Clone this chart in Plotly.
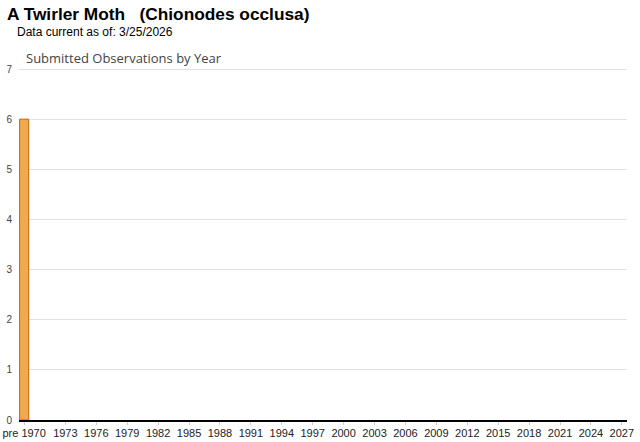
import plotly.graph_objects as go

# Data
categories = ["pre 1970"] + [str(y) for y in range(1970, 2028)]
counts = [6] + [0] * (len(categories) - 1)
tick_labels = ["pre 1970"] + [str(y) for y in range(1973, 2028, 3)]

W, H = 640, 442
L, R, T, B = 19, 13, 66, 22
pw = W - L - R
ph = H - T - B

def px_x(p):
    return (p - L) / pw

def px_y(p):
    return (H - B - p) / ph

line_widths = [1 if c > 0 else 0 for c in counts]

fig = go.Figure()
fig.add_trace(go.Bar(
    x=categories, y=counts,
    marker=dict(color="#F2A84E", line=dict(color="#C0650F", width=line_widths)),
    hoverinfo="x+y",
))

fig.update_layout(
    width=W, height=H,
    margin=dict(l=L, r=R, t=T, b=B, autoexpand=False),
    paper_bgcolor="white", plot_bgcolor="white",
    bargap=0.12,
    showlegend=False,
    font=dict(family="Liberation Sans, Arial, sans-serif", color="#222"),
    annotations=[
        dict(text="<b>A Twirler Moth   (Chionodes occlusa)</b>", xref="paper", yref="paper",
             x=px_x(5), y=px_y(14), xanchor="left", yanchor="middle",
             showarrow=False, font=dict(size=17.3, color="#000")),
        dict(text="Data current as of: 3/25/2026", xref="paper", yref="paper",
             x=px_x(15), y=px_y(32), xanchor="left", yanchor="middle",
             showarrow=False, font=dict(size=12, color="#000")),
        dict(text="Submitted Observations by Year", xref="paper", yref="paper",
             x=px_x(24), y=px_y(58), xanchor="left", yanchor="middle",
             showarrow=False, font=dict(size=13, color="#444", family="Open Sans, sans-serif")),
    ],
)

fig.update_xaxes(
    type="category", automargin=False,
    categoryorder="array", categoryarray=categories,
    tickmode="array", tickvals=tick_labels, ticktext=tick_labels,
    showline=True, linecolor="#000", linewidth=1.5,
    ticks="outside", ticklen=3, tickcolor="#ccc",
    tickfont=dict(size=11, color="#222"),
    ticklabelstandoff=-1,
    showgrid=False, zeroline=False,
)
fig.update_yaxes(
    range=[0, 7.06], tickvals=[0, 1, 2, 3, 4, 5, 6, 7], automargin=False,
    showgrid=True, gridcolor="#e2e2e2", gridwidth=1,
    zeroline=False, showline=False,
    tickfont=dict(size=10, color="#444"),
    ticks="", ticklabelstandoff=6,
)

fig.write_html(
    "out.html",
    config={"displayModeBar": False},
    post_script="document.body.style.margin='0';document.body.style.overflow='hidden';",
)
